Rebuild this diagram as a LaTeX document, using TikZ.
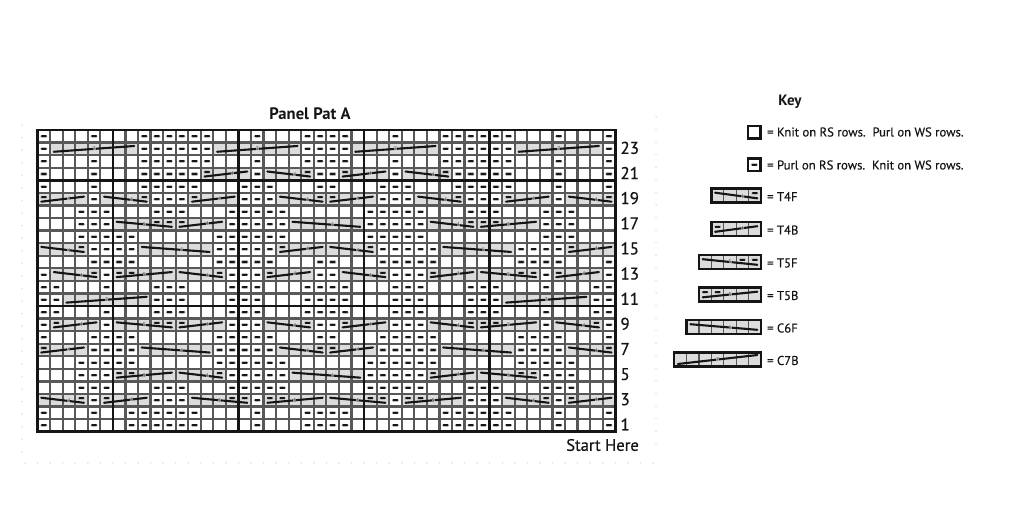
\documentclass[tikz,border=0pt]{standalone}
\usepackage{fontspec}
\setmainfont{PT Sans}
\newfontfamily\semibold[FakeBold=0.6]{PT Sans}
\newfontfamily\lightbold[FakeBold=0.3]{PT Sans}
\pgfdeclarelayer{bg}
\pgfsetlayers{bg,main}
\definecolor{inkc}{HTML}{151515}
\definecolor{gridc}{HTML}{585858}
\definecolor{shadec}{HTML}{DCDCDC}
\definecolor{dotc}{HTML}{E6E6E6}
\tikzset{
  gridline/.style={gridc,line width=2.2pt},
  boldline/.style={inkc,line width=2.6pt},
  frameline/.style={inkc,line width=2.9pt,line join=miter},
  shadecell/.style={fill=shadec},
  halomark/.style={gridc!40,line width=3.2pt,line cap=round},
  purlmark/.style={inkc,line width=2pt,line cap=round},
  cableline/.style={inkc,line width=2.1pt,line cap=round},
  digitnode/.style={fill=shadec,fill opacity=.6,text opacity=1,text=inkc!75,inner sep=0pt,font=\fontsize{5.5}{6}\selectfont},
  rownum/.style={anchor=west,inner sep=0pt,font=\semibold\fontsize{17}{17}\selectfont,text=inkc},
  keytext/.style={anchor=west,inner sep=0pt,font=\lightbold\fontsize{12.7}{13}\selectfont,text=inkc},
  headtext/.style={inner sep=0pt,font=\bfseries\fontsize{16.6}{17}\selectfont,text=inkc},
  faintdot/.style={fill=dotc},
}
\newcommand\onepurl[3]{%
  \draw[halomark] (#1+.34,#2-.5+#3) -- (#1+.66,#2-.5+#3);
  \draw[purlmark] (#1+.34,#2-.5+#3) -- (#1+.66,#2-.5+#3);}
\newcommand\purls[2]{\foreach \cc in {#2}{\onepurl{\cc}{#1}{0}}}
\newcommand\cab[7]{%
  \begin{pgfonlayer}{bg}\fill[shadecell] (#1,#2-1) rectangle ++(#3,1);\end{pgfonlayer}
  \foreach \mm in {#7}{\onepurl{#1+\mm}{#2}{.16}}
  \draw[cableline] (#1+.3,#2-.5-#4) -- (#1+#3-.3,#2-.5+#4);
  \node[digitnode] (dig-#1-#2) at (#1+#6,#2-.5+#4*2*#6/#3-#4) {#5};}
\newcommand\TFF[2]{\cab{#1}{#2}{4}{-.2}{4}{2.5}{3}}
\newcommand\TFB[2]{\cab{#1}{#2}{4}{.2}{4}{2.5}{0}}
\newcommand\TVF[2]{\cab{#1}{#2}{5}{-.2}{5}{2.5}{3,4}}
\newcommand\TVB[2]{\cab{#1}{#2}{5}{.2}{5}{2.5}{0,1}}
\newcommand\CSF[2]{\cab{#1}{#2}{6}{-.2}{6}{3.5}{}}
\newcommand\CSB[2]{\cab{#1}{#2}{7}{.23}{7}{3.5}{}}
\begin{document}
\begin{tikzpicture}[x=1pt,y=-1pt]
\useasboundingbox (0,0) rectangle (1024,507);
\begin{pgfonlayer}{bg}\fill[white] (0,0) rectangle (1024,507);\end{pgfonlayer}
\foreach \ii in {0,...,50}{\fill[faintdot] (25+12.56*\ii,463) circle (1);}
\foreach \ii in {0,...,26}{\fill[faintdot] (22,125+12.57*\ii) circle (1);}
\foreach \ii in {0,...,26}{\fill[faintdot] (656,117+12.57*\ii) circle (1);}
\begin{scope}[shift={(37.5,431.7)},x=12.56pt,y=12.57pt]
\foreach \ii in {1,...,45}{\draw[gridline] (\ii,0) -- (\ii,24);}
\foreach \jj in {1,...,23}{\draw[gridline] (0,\jj) -- (46,\jj);}
\foreach \ii in {6,16,26,36}{\draw[boldline] (\ii,0) -- (\ii,24);}
\foreach \jj in {10,20}{\draw[boldline] (0,\jj) -- (46,\jj);}
\purls{24}{0,4,8,9,10,11,12,13,17,21,22,23,24,28,32,33,34,35,36,37,41,45}
\purls{23}{0,8,9,10,11,12,13,21,22,23,24,32,33,34,35,36,37,45}
\CSB{1}{23}\CSB{14}{23}\CSB{25}{23}\CSB{38}{23}
\purls{22}{0,4,8,9,10,11,12,13,17,21,22,23,24,28,32,33,34,35,36,37,41,45}
\purls{21}{0,4,8,9,10,11,12,17,22,23,28,33,34,35,36,37,41,45}
\TFB{13}{21}\TFF{18}{21}\TFB{24}{21}\TFF{29}{21}
\purls{20}{0,4,8,9,10,11,12,16,17,18,22,23,27,28,29,33,34,35,36,37,41,45}
\purls{19}{4,9,10,11,16,17,18,27,28,29,34,35,36,41}
\TFB{0}{19}\TFF{5}{19}\TFB{12}{19}\TFF{19}{19}\TFB{23}{19}\TFF{30}{19}\TFB{37}{19}\TFF{42}{19}
\purls{18}{3,4,5,9,10,11,15,16,17,18,19,26,27,28,29,30,34,35,36,40,41,42}
\purls{17}{3,4,5,15,16,17,18,19,26,27,28,29,30,40,41,42}
\TVF{6}{17}\TFB{11}{17}\CSF{20}{17}\TFF{31}{17}\TVB{35}{17}
\purls{16}{3,4,5,6,7,14,15,16,17,18,19,26,27,28,29,30,40,41,42}
\purls{15}{4,5,6,7,14,15,16,17,18,27,28,29,30,31,38,39,40,41}
\TFF{0}{15}\CSF{8}{15}\TFB{19}{15}\TFF{23}{15}\CSF{32}{15}\TFB{42}{15}
\purls{14}{4,5,6,7,14,15,16,17,18,22,23,27,28,29,30,31,38,39,40,41,45}
\purls{13}{0,5,15,16,17,22,23,28,29,30,40,45}
\TFF{1}{13}\TVB{6}{13}\TFF{11}{13}\TFB{18}{13}\TFF{24}{13}\TFB{31}{13}\TVF{35}{13}\TFB{41}{13}
\purls{12}{0,1,5,9,10,11,15,16,17,21,22,23,24,28,29,30,34,35,36,40,44,45}
\purls{11}{0,1,9,10,11,15,16,17,21,22,23,24,28,29,30,34,35,36,44,45}
\CSB{2}{11}\CSB{37}{11}
\purls{10}{0,1,5,9,10,11,15,16,17,21,22,23,24,28,29,30,34,35,36,40,44,45}
\purls{9}{0,5,15,16,17,22,23,28,29,30,40,45}
\TFB{1}{9}\TVF{6}{9}\TFB{11}{9}\TFF{18}{9}\TFB{24}{9}\TFF{31}{9}\TVB{35}{9}\TFF{41}{9}
\purls{8}{0,4,5,6,7,14,15,16,17,18,22,23,27,28,29,30,31,38,39,40,41,45}
\purls{7}{4,5,6,7,14,15,16,17,18,27,28,29,30,31,38,39,40,41}
\TFB{0}{7}\CSF{8}{7}\TFF{19}{7}\TFB{23}{7}\CSF{32}{7}\TFF{42}{7}
\purls{6}{3,4,5,6,7,14,15,16,17,18,19,26,27,28,29,30,31,38,39,40,41,42}
\purls{5}{3,4,5,15,16,17,18,19,26,27,28,29,30,40,41,42}
\TVB{6}{5}\TFF{11}{5}\CSF{20}{5}\TFB{31}{5}\TVF{35}{5}
\purls{4}{3,4,5,9,10,11,15,16,17,18,19,26,27,28,29,30,34,35,36,40,41,42}
\purls{3}{4,9,10,11,17,28,34,35,36,41}
\TFF{0}{3}\TFB{5}{3}\TVF{12}{3}\TVB{18}{3}\TVF{23}{3}\TVB{29}{3}\TFF{37}{3}\TFB{42}{3}
\purls{2}{0,4,7,8,9,10,11,12,17,21,22,23,24,28,32,33,34,35,36,37,41,45}
\purls{1}{0,4,7,8,9,10,11,12,17,21,22,23,24,28,32,33,34,35,36,37,41,45}
\draw[frameline] (0,0) rectangle (46,24);
\foreach \nn in {1,3,...,23}{\node[rownum] (num-\nn) at (46.4,\nn-.42) {\nn};}
\end{scope}
\node[headtext] (title) at (310,113.5) {Panel Pat A};
\node[rownum,anchor=east,font=\semibold\fontsize{16.6}{17}\selectfont] (start) at (639,445) {Start Here};
\node[headtext,font=\bfseries\fontsize{15}{16}\selectfont] (keyhead) at (790,102) {Key};
\draw[frameline,line width=2.2pt] (748,126) rectangle (760.5,138.5);
\node[keytext] (kk) at (767,132) {= Knit on RS rows.\ \ Purl on WS rows.};
\draw[frameline,line width=2.2pt] (748,158.5) rectangle (760.5,171);
\begin{scope}[shift={(748,171)},x=12.5pt,y=12.5pt]\onepurl{0}{1}{0}\end{scope}
\node[keytext] (kp) at (767,165) {= Purl on RS rows.\ \ Knit on WS rows.};
\newcommand\keybox[4]{%
  \begin{scope}[shift={(761-12.4*#1,#2+14)},x=12.4pt,y=14pt]
    \foreach \ii in {1,...,\numexpr#1-1\relax}{\draw[gridline,line width=1.3pt] (\ii,0) -- (\ii,1);}
    #3
    \draw[frameline,line width=2.4pt] (0,0) rectangle (#1,1);
  \end{scope}
  \node[keytext] (key-#4) at (767,#2+8) {= #4};}
\keybox{4}{188.5}{\TFF{0}{1}}{T4F}
\keybox{4}{222}{\TFB{0}{1}}{T4B}
\keybox{5}{255}{\TVF{0}{1}}{T5F}
\keybox{5}{287.5}{\TVB{0}{1}}{T5B}
\keybox{6}{320}{\CSF{0}{1}}{C6F}
\keybox{7}{352.5}{\cab{0}{1}{7}{.32}{7}{3.5}{}}{C7B}
\end{tikzpicture}
\end{document}
